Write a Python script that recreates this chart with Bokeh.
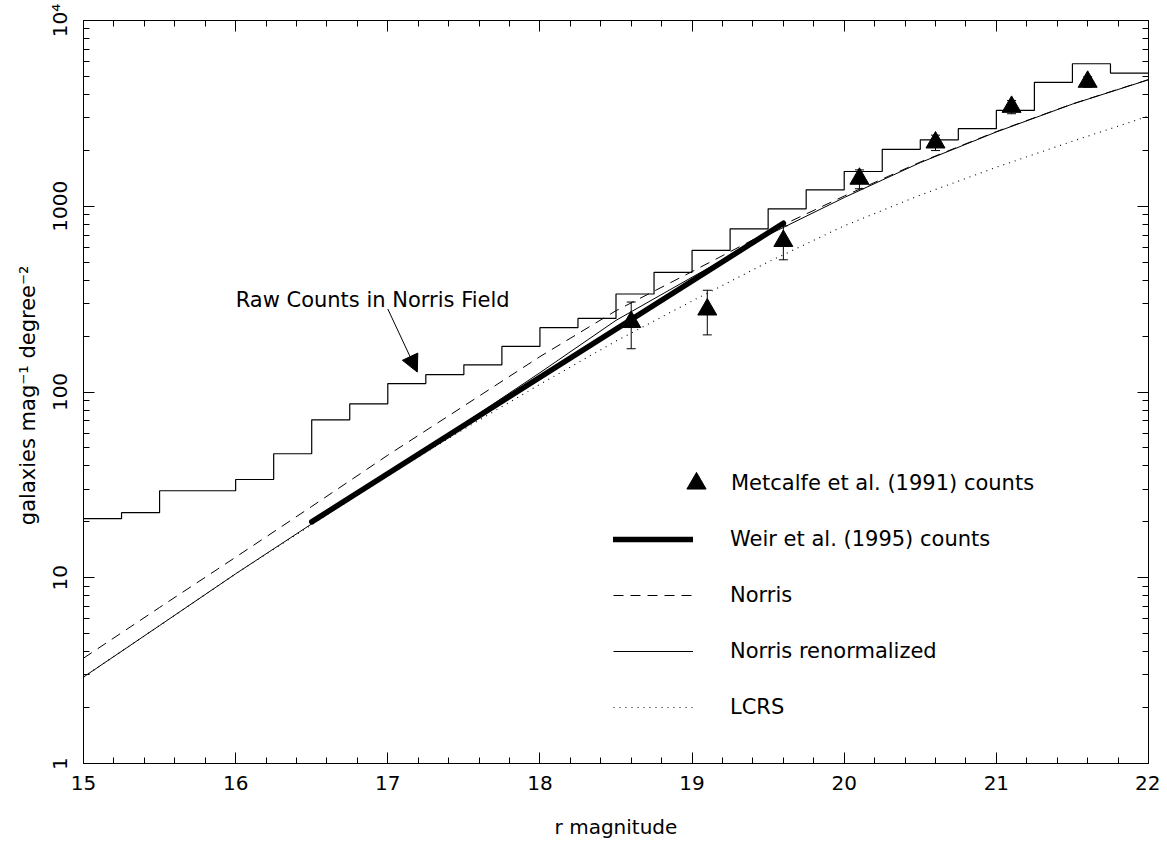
import math
from bokeh.plotting import figure
from bokeh.models import (ColumnDataSource, Whisker, TeeHead, Arrow, NormalHead, Label,
                          LinearAxis, LogAxis, Legend, LegendItem, CustomJSTickFormatter,
                          FixedTicker, Range1d)
from bokeh.embed import file_html
from bokeh.resources import INLINE

# ---------------- data ----------------
# Raw counts in Norris field: histogram, bins of 0.25 mag (left edges)
hist_left = [15.00, 15.25, 15.50, 15.75, 16.00, 16.25, 16.50, 16.75,
             17.00, 17.25, 17.50, 17.75, 18.00, 18.25, 18.50, 18.75,
             19.00, 19.25, 19.50, 19.75, 20.00, 20.25, 20.50, 20.75,
             21.00, 21.25, 21.50, 21.75]
hist_right_edge = 22.0
hist_counts = [20.8, 22.4, 29.4, 29.4, 33.8, 46.5, 70.8, 86.4,
               111.0, 124.0, 140.0, 176.0, 222.0, 249.0, 337.0, 441.0,
               578.0, 756.0, 969.0, 1226.0, 1538.0, 2025.0, 2279.0, 2615.0,
               3280.0, 4640.0, 5850.0, 5210.0]

# model curves
model_mag = [15.0, 15.5, 16.0, 16.5, 17.0, 17.5, 18.0, 18.5,
             19.0, 19.5, 20.0, 20.5, 21.0, 21.5, 22.0]
norris = [3.69, 6.92, 12.9, 24.2, 45.7, 84.1, 155.0, 274.0,
          445.0, 728.0, 1135.0, 1730.0, 2523.0, 3556.0, 4808.0]
norris_renorm = [2.92, 5.53, 10.5, 19.5, 36.3, 67.6, 127.0, 243.0,
                 415.0, 701.0, 1114.0, 1718.0, 2512.0, 3548.0, 4797.0]
lcrs = [2.92, 5.53, 10.5, 19.3, 35.5, 63.1, 110.0, 188.0,
        309.0, 501.0, 785.0, 1148.0, 1622.0, 2239.0, 3055.0]

# Weir et al. (1995) counts
weir_mag = [16.5, 19.6]
weir_counts = [20.0, 810.0]

# Metcalfe et al. (1991) counts with errors
metcalfe_mag = [18.6, 19.1, 19.6, 20.1, 20.6, 21.1, 21.6]
metcalfe_counts = [238.0, 278.0, 650.0, 1406.0, 2204.0, 3428.0, 4677.0]
metcalfe_err = [67.0, 75.0, 135.0, 164.0, 210.0, 280.0, 300.0]

# axes
x_tick_values = [15, 16, 17, 18, 19, 20, 21, 22]
y_tick_values = [1, 10, 100, 1000, 10000]
y_tick_labels = ["1", "10", "100", "1000", "10\u2074"]

# annotation
raw_label_text = "Raw Counts in Norris Field"
raw_label_pos = (16.0, 311.0)
raw_arrow_start = (17.0, 280.0)
raw_arrow_end = (17.194, 128.0)

FONT = "DejaVu Sans"

# ---------------- figure ----------------
p = figure(width=1160, height=845, x_range=Range1d(15, 22), y_range=Range1d(1, 1e4),
           y_axis_type="log", output_backend="svg", toolbar_location=None,
           min_border_left=83, min_border_right=12, min_border_top=20, min_border_bottom=82)
p.background_fill_color = "white"
p.border_fill_color = "white"
p.outline_line_color = "black"
p.outline_line_width = 1
p.grid.visible = False

x_minor = [15 + 0.2 * i for i in range(36)]
y_minor = [m * 10 ** d for d in range(4) for m in range(2, 10)]
xticker = FixedTicker(ticks=x_tick_values, minor_ticks=x_minor)
yticker = FixedTicker(ticks=y_tick_values, minor_ticks=y_minor)

yfmt = CustomJSTickFormatter(args=dict(vals=y_tick_values, labs=y_tick_labels), code="""
for (let i = 0; i < vals.length; i++) {
  if (Math.abs(Math.log10(tick) - Math.log10(vals[i])) < 1e-6) return labs[i];
}
return '';
""")
blank = CustomJSTickFormatter(code="return '';")

def style_axis(ax):
    ax.axis_line_color = "black"
    ax.major_tick_in = 11
    ax.major_tick_out = 0
    ax.minor_tick_in = 6
    ax.minor_tick_out = 0
    ax.major_tick_line_color = "black"
    ax.minor_tick_line_color = "black"
    ax.major_label_text_font = FONT
    ax.major_label_text_font_size = "20px"
    ax.major_label_text_color = "black"
    ax.axis_label_text_font = FONT
    ax.axis_label_text_font_size = "20px"
    ax.axis_label_text_font_style = "normal"
    ax.axis_label_text_color = "black"

xa = p.xaxis[0]
style_axis(xa)
xa.ticker = xticker
xa.major_label_standoff = 12
xa.axis_label = "r magnitude"
xa.axis_label_standoff = 22

ya = p.yaxis[0]
style_axis(ya)
ya.ticker = yticker
ya.formatter = yfmt
ya.major_label_orientation = "vertical"
ya.major_label_standoff = 12
ya.axis_label = "galaxies mag\u207b\u00b9  degree\u207b\u00b2"
ya.axis_label_text_font_size = "21px"
ya.axis_label_standoff = 5

top = LinearAxis(ticker=xticker, formatter=blank)
style_axis(top)
top.major_label_text_font_size = "1px"
top.major_label_standoff = 0
p.add_layout(top, "above")

right = LogAxis(ticker=yticker, formatter=blank)
style_axis(right)
right.major_label_text_font_size = "1px"
right.major_label_standoff = 0
p.add_layout(right, "right")

# ---------------- glyphs ----------------
r_lcrs = p.line(model_mag, lcrs, line_color="black", line_width=1.1, line_dash="1 5")
r_ren = p.line(model_mag, norris_renorm, line_color="black", line_width=1)
r_nor = p.line(model_mag, norris, line_color="black", line_width=1, line_dash="10 7")

step_x = hist_left + [hist_right_edge]
step_y = hist_counts + [hist_counts[-1]]
p.step(step_x, step_y, mode="after", line_color="black", line_width=1.2)

r_weir = p.line(weir_mag, weir_counts, line_color="black", line_width=5.5, line_cap="round")

msrc = ColumnDataSource(dict(
    x=metcalfe_mag, y=metcalfe_counts,
    upper=[c + e for c, e in zip(metcalfe_counts, metcalfe_err)],
    lower=[c - e for c, e in zip(metcalfe_counts, metcalfe_err)]))
p.add_layout(Whisker(source=msrc, base="x", upper="upper", lower="lower", dimension="height",
                     line_color="black", line_width=1,
                     upper_head=TeeHead(size=9, line_color="black", line_width=1),
                     lower_head=TeeHead(size=9, line_color="black", line_width=1)))
r_tri = p.scatter("x", "y", source=msrc, marker="triangle", size=19,
                  fill_color="black", line_color="black")

# annotation
p.add_layout(Label(x=raw_label_pos[0], y=raw_label_pos[1], text=raw_label_text,
                   text_font=FONT, text_font_size="21px", text_color="black",
                   text_baseline="alphabetic"))
p.add_layout(Arrow(end=NormalHead(size=17, fill_color="black", line_color="black"),
                   x_start=raw_arrow_start[0], y_start=raw_arrow_start[1],
                   x_end=raw_arrow_end[0], y_end=raw_arrow_end[1],
                   line_color="black", line_width=1))

# ---------------- legends ----------------
def style_legend(lg):
    lg.border_line_color = None
    lg.background_fill_alpha = 0
    lg.label_text_font = FONT
    lg.label_text_font_size = "21px"
    lg.label_text_color = "black"
    lg.padding = 0
    lg.margin = 0

leg1 = Legend(items=[LegendItem(label="Metcalfe et al. (1991) counts", renderers=[r_tri])],
              location=(589, 256), glyph_width=48, glyph_height=48, label_standoff=11)
style_legend(leg1)
leg2 = Legend(items=[LegendItem(label="Weir et al. (1995) counts", renderers=[r_weir]),
                     LegendItem(label="Norris", renderers=[r_nor]),
                     LegendItem(label="Norris renormalized", renderers=[r_ren]),
                     LegendItem(label="LCRS", renderers=[r_lcrs])],
              location=(530, 44), glyph_width=80, glyph_height=24, label_height=24,
              spacing=32, label_standoff=37)
style_legend(leg2)
p.add_layout(leg1, "center")
p.add_layout(leg2, "center")

open("out.html", "w").write(file_html(p, INLINE))
